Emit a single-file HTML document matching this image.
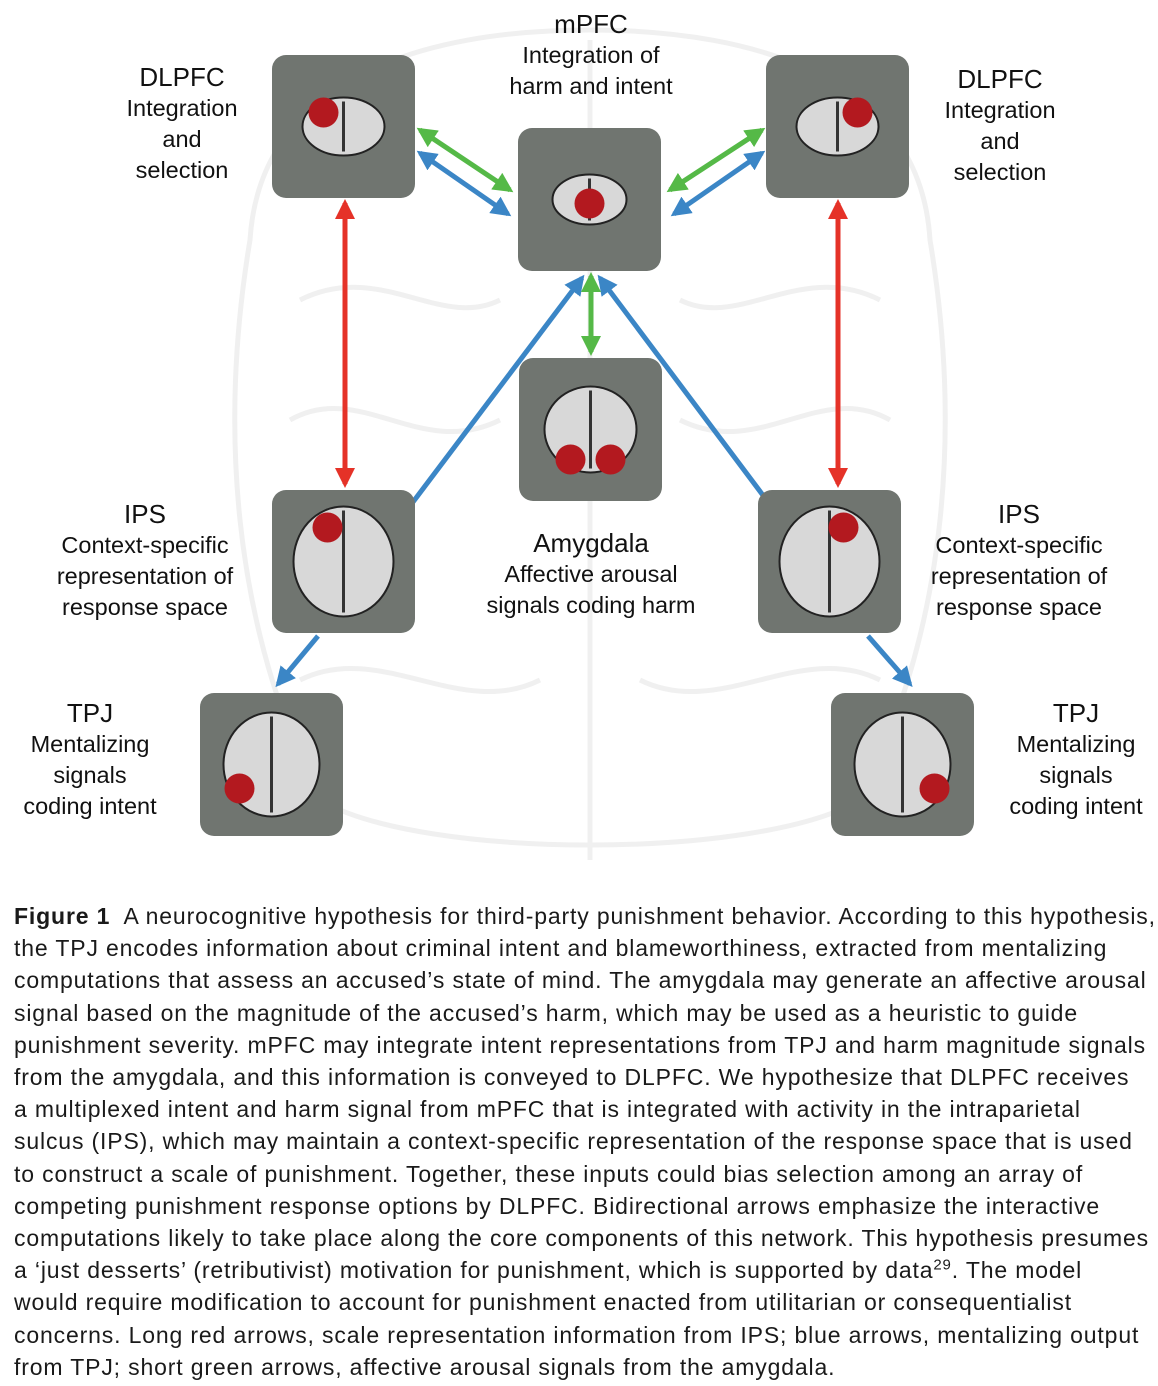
<!DOCTYPE html>
<html><head><meta charset="utf-8">
<style>
body{margin:0;background:#fff;font-family:"Liberation Sans",Arial,sans-serif;}
#wrap{position:relative;width:1158px;height:1386px;overflow:hidden;}
.lbl{position:absolute;text-align:center;color:#111;font-size:23.5px;line-height:31px;}
.lbl b{font-weight:normal;font-size:26px;display:block;line-height:32px;}
#cap{position:absolute;left:14px;top:900px;font-size:23px;letter-spacing:0.85px;line-height:32.2px;color:#1a1a1a;white-space:nowrap;}
#cap sup{line-height:0;font-size:15px;}
</style></head><body>
<div id="wrap">
<svg width="1158" height="880" style="position:absolute;left:0;top:0">
<defs>
<marker id="mr" viewBox="0 0 10 10" refX="8" refY="5" markerWidth="4" markerHeight="4" orient="auto-start-reverse"><path d="M0,0L10,5L0,10z" fill="#e53228"/></marker>
<marker id="mg" viewBox="0 0 10 10" refX="8" refY="5" markerWidth="4" markerHeight="4" orient="auto-start-reverse"><path d="M0,0L10,5L0,10z" fill="#55b947"/></marker>
<marker id="mb" viewBox="0 0 10 10" refX="8" refY="5" markerWidth="4" markerHeight="4" orient="auto-start-reverse"><path d="M0,0L10,5L0,10z" fill="#3b86c6"/></marker>
</defs>
<g fill="none" stroke="#f0f0f0" stroke-width="5">
<path d="M250,240 C260,80 420,30 590,30 C760,30 920,80 930,240 C960,420 950,620 860,800 C760,860 420,860 320,800 C230,620 220,420 250,240Z"/>
<path d="M590,40 L590,860"/>
<path d="M300,300 C380,260 440,330 500,300 M680,300 C740,330 800,260 880,300 M290,420 C360,380 420,460 500,420 M680,420 C760,460 820,380 890,420 M300,680 C380,640 460,720 540,680 M640,680 C720,720 800,640 880,680"/>
</g>
<g stroke-width="5" fill="none">
<line x1="345" y1="203" x2="345" y2="484" stroke="#e53228" marker-start="url(#mr)" marker-end="url(#mr)"/>
<line x1="838" y1="203" x2="838" y2="484" stroke="#e53228" marker-start="url(#mr)" marker-end="url(#mr)"/>
<line x1="420" y1="130" x2="510" y2="190" stroke="#55b947" marker-start="url(#mg)" marker-end="url(#mg)"/>
<line x1="420" y1="153" x2="508" y2="214" stroke="#3b86c6" marker-start="url(#mb)" marker-end="url(#mb)"/>
<line x1="762" y1="130" x2="670" y2="190" stroke="#55b947" marker-start="url(#mg)" marker-end="url(#mg)"/>
<line x1="762" y1="153" x2="674" y2="214" stroke="#3b86c6" marker-start="url(#mb)" marker-end="url(#mb)"/>
<line x1="413" y1="502" x2="582" y2="278" stroke="#3b86c6" marker-end="url(#mb)"/>
<line x1="765" y1="498" x2="600" y2="278" stroke="#3b86c6" marker-end="url(#mb)"/>
<line x1="591" y1="276" x2="591" y2="352" stroke="#55b947" marker-start="url(#mg)" marker-end="url(#mg)"/>
<line x1="318" y1="636" x2="278" y2="684" stroke="#3b86c6" marker-end="url(#mb)"/>
<line x1="868" y1="636" x2="910" y2="684" stroke="#3b86c6" marker-end="url(#mb)"/>
</g>
<g id="boxes"></g>
</svg>
<div class="lbl" style="left:470px;top:8px;width:242px"><b>mPFC</b>Integration of<br>harm and intent</div>
<div class="lbl" style="left:92px;top:61px;width:180px"><b>DLPFC</b>Integration<br>and<br>selection</div>
<div class="lbl" style="left:910px;top:63px;width:180px"><b>DLPFC</b>Integration<br>and<br>selection</div>
<div class="lbl" style="left:30px;top:498px;width:230px"><b>IPS</b>Context-specific<br>representation of<br>response space</div>
<div class="lbl" style="left:904px;top:498px;width:230px"><b>IPS</b>Context-specific<br>representation of<br>response space</div>
<div class="lbl" style="left:460px;top:527px;width:262px"><b>Amygdala</b>Affective arousal<br>signals coding harm</div>
<div class="lbl" style="left:0px;top:697px;width:180px"><b>TPJ</b>Mentalizing<br>signals<br>coding intent</div>
<div class="lbl" style="left:986px;top:697px;width:180px"><b>TPJ</b>Mentalizing<br>signals<br>coding intent</div>
<div id="cap">
<div><b>Figure 1</b>&nbsp; A neurocognitive hypothesis for third-party punishment behavior. According to this hypothesis,</div>
<div>the TPJ encodes information about criminal intent and blameworthiness, extracted from mentalizing</div>
<div>computations that assess an accused’s state of mind. The amygdala may generate an affective arousal</div>
<div>signal based on the magnitude of the accused’s harm, which may be used as a heuristic to guide</div>
<div>punishment severity. mPFC may integrate intent representations from TPJ and harm magnitude signals</div>
<div>from the amygdala, and this information is conveyed to DLPFC. We hypothesize that DLPFC receives</div>
<div>a multiplexed intent and harm signal from mPFC that is integrated with activity in the intraparietal</div>
<div>sulcus (IPS), which may maintain a context-specific representation of the response space that is used</div>
<div>to construct a scale of punishment. Together, these inputs could bias selection among an array of</div>
<div>competing punishment response options by DLPFC. Bidirectional arrows emphasize the interactive</div>
<div>computations likely to take place along the core components of this network. This hypothesis presumes</div>
<div>a ‘just desserts’ (retributivist) motivation for punishment, which is supported by data<sup>29</sup>. The model</div>
<div>would require modification to account for punishment enacted from utilitarian or consequentialist</div>
<div>concerns. Long red arrows, scale representation information from IPS; blue arrows, mentalizing output</div>
<div>from TPJ; short green arrows, affective arousal signals from the amygdala.</div>
</div>
</div>
<script>
const regions=['dlpfc-left','mpfc','dlpfc-right','amygdala','ips-left','ips-right','tpj-left','tpj-right'];
const boxX=[272,518,766,519,272,758,200,831];
const boxY=[55,128,55,358,490,490,693,693];
const brainW=[82,74,82,92,100,100,96,96];
const brainH=[58,50,58,86,110,110,104,104];
const dots=[[-20,-14],[0,4],[20,-14],[[-20,30],[20,30]],[-16,-34],[14,-34],[-32,24],[32,24]];
const g=document.getElementById('boxes');
const NS='http://www.w3.org/2000/svg';
regions.forEach((r,i)=>{
  const grp=document.createElementNS(NS,'g');
  
  
  const rect=document.createElementNS(NS,'rect');
  rect.setAttribute('x',boxX[i]);rect.setAttribute('y',boxY[i]);
  rect.setAttribute('width',143);rect.setAttribute('height',143);
  rect.setAttribute('rx',14);rect.setAttribute('fill','#707570');
  grp.appendChild(rect);
  const cx=boxX[i]+71.5,cy=boxY[i]+71.5;
  const e=document.createElementNS(NS,'ellipse');
  
  
  e.setAttribute('cx',cx);e.setAttribute('cy',cy);
  e.setAttribute('rx',brainW[i]/2);e.setAttribute('ry',brainH[i]/2);
  e.setAttribute('fill','#d8d8d8');e.setAttribute('stroke','#222');e.setAttribute('stroke-width','2');
  grp.appendChild(e);
  const l=document.createElementNS(NS,'line');
  l.setAttribute('x1',cx);l.setAttribute('x2',cx);l.setAttribute('y1',cy-brainH[i]/2+4);l.setAttribute('y2',cy+brainH[i]/2-4);
  l.setAttribute('stroke','#333');l.setAttribute('stroke-width','3');
  grp.appendChild(l);
  const ds=Array.isArray(dots[i][0])?dots[i]:[dots[i]];
  ds.forEach(d=>{
    const c=document.createElementNS(NS,'circle');
    
    
    c.setAttribute('cx',cx+d[0]);c.setAttribute('cy',cy+d[1]);c.setAttribute('r',15);
    c.setAttribute('fill','#b3191f');
    grp.appendChild(c);
  });
  g.appendChild(grp);
});
</script>
</body></html>
